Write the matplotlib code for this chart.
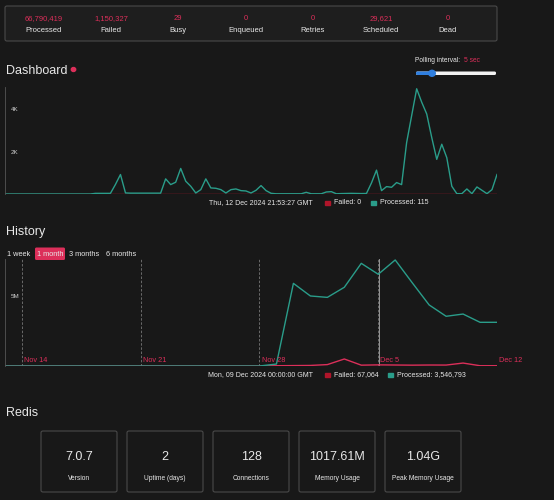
import matplotlib
matplotlib.use("Agg")
import matplotlib.pyplot as plt
from matplotlib.patches import FancyBboxPatch, Rectangle, Circle
import numpy as np

plt.rcParams['font.family'] = ['Liberation Sans', 'DejaVu Sans']

# --- data ---
stat_values = ["66,790,419", "1,150,327", "29", "0", "0", "29,621", "0"]
stat_labels = ["Processed", "Failed", "Busy", "Enqueued", "Retries", "Scheduled", "Dead"]

# realtime (polling) chart, jobs per interval
live_processed = [0, 0, 0, 0, 0, 0, 0, 0, 0, 0, 0, 0, 0, 0, 0, 0, 0, 0,
                  30, 30, 30, 30, 450, 920, 50, 40, 40, 40, 40, 40, 40, 40,
                  714, 444, 555, 1206, 603, 365, 48, 206, 714, 286, 270, 206,
                  48, 206, 238, 159, 143, 48, 175, 397, 159, 32,
                  10, 10, 10, 10, 10, 10, 80, 10, 10, 10, 95, 111, 10,
                  20, 25, 30, 25, 20, 25,
                  524, 1127, 159, 349, 317, 540, 444, 2428, 3698, 4967, 4333,
                  3777, 2666, 1635, 2349, 1714, 365, 16, 16, 238, 16, 333,
                  175, 16, 206, 920]
live_failed = [0] * len(live_processed)

# history, 1 month (Nov 13 .. Dec 12)
hist_days = ["Nov 13", "Nov 14", "Nov 15", "Nov 16", "Nov 17", "Nov 18", "Nov 19",
             "Nov 20", "Nov 21", "Nov 22", "Nov 23", "Nov 24", "Nov 25", "Nov 26",
             "Nov 27", "Nov 28", "Nov 29", "Nov 30", "Dec 1", "Dec 2", "Dec 3",
             "Dec 4", "Dec 5", "Dec 6", "Dec 7", "Dec 8", "Dec 9", "Dec 10",
             "Dec 11", "Dec 12"]
hist_processed = [0] * 15 + [0.0, 0.14e6, 5.90e6, 5.00e6, 4.90e6, 5.62e6, 7.33e6,
                             6.55e6, 7.57e6, 5.95e6, 4.36e6, 3.55e6, 3.71e6,
                             3.12e6, 3.12e6]
hist_failed = [0] * 15 + [0, 0.02e6, 0.03e6, 0.04e6, 0.10e6, 0.50e6, 0.06e6,
                          0.08e6, 0.07e6, 0.06e6, 0.07e6, 0.067e6, 0.21e6,
                          0.02e6, 0.02e6]
hist_ticks = ["Nov 14", "Nov 21", "Nov 28", "Dec 5", "Dec 12"]

redis_values = ["7.0.7", "2", "128", "1017.61M", "1.04G"]
redis_labels = ["Version", "Uptime (days)", "Connections", "Memory Usage", "Peak Memory Usage"]

BG = "#181818"
PANEL = "#1e1e1e"
BORDER = "#4a4a4a"
CRIMSON = "#dc2f5a"
TEAL = "#2a9d8a"
RED = "#b0152a"
TXT = "#e8e8e8"

W, H = 554, 500
fig = plt.figure(figsize=(W / 100, H / 100), dpi=100, facecolor=BG)


def fx(x):
    return x / W


def fy(y):
    return 1 - y / H


def txt(x, y, s, size=6, color=TXT, ha="center", va="center", **kw):
    fig.text(fx(x), fy(y), s, fontsize=size, color=color, ha=ha, va=va, **kw)


def box(x0, y0, x1, y1, fc=PANEL, ec=BORDER, lw=0.8, r=2):
    p = FancyBboxPatch((fx(x0), fy(y1)), fx(x1 - x0), (y1 - y0) / H,
                       boxstyle=f"round,pad=0,rounding_size={r / W}",
                       transform=fig.transFigure, fc=fc, ec=ec, lw=lw)
    fig.patches.append(p)


def swatch(x, y, color):
    fig.patches.append(Rectangle((fx(x), fy(y + 2.2)), fx(4.5), 4.5 / H,
                                 transform=fig.transFigure, color=color))


# stats bar
box(5, 6, 497, 41)
stat_x = [44, 111, 178, 246, 313, 381, 448]
for x, v, l in zip(stat_x, stat_values, stat_labels):
    txt(x, 19, v, size=5.5, color=CRIMSON)
    txt(x, 31, l, size=5.5)

# dashboard header
txt(6, 71, "Dashboard", size=9.0, ha="left")
fig.patches.append(Circle((fx(73.5), fy(69.5)), 2.2 / W, transform=fig.transFigure,
                          color=CRIMSON))
txt(415, 60, "Polling interval:", size=4.8, ha="left")
txt(463.5, 60, "5 sec", size=4.8, color=CRIMSON, ha="left")
fig.patches.append(FancyBboxPatch((fx(416), fy(75)), fx(80), 3.5 / H,
                                  boxstyle=f"round,pad=0,rounding_size={1.5 / W}",
                                  transform=fig.transFigure, fc="#f2f2f2", ec="none"))
fig.patches.append(FancyBboxPatch((fx(416), fy(75)), fx(16), 3.5 / H,
                                  boxstyle=f"round,pad=0,rounding_size={1.5 / W}",
                                  transform=fig.transFigure, fc="#2f7fe0", ec="none"))
fig.patches.append(Circle((fx(432), fy(73.3)), 3.3 / W, transform=fig.transFigure,
                          color="#2f7fe0"))

# realtime chart
ax1 = fig.add_axes([fx(5), fy(194), fx(492), 107 / H], facecolor=BG)
xs = np.arange(len(live_processed))
ax1.plot(xs, live_failed, color=RED, lw=1.0)
ax1.plot(xs, live_processed, color=TEAL, lw=1.0)
ax1.set_xlim(0, len(xs) - 1)
ax1.set_ylim(0, 5050)
ax1.set_yticks([2000, 4000])
ax1.set_yticklabels(["2K", "4K"])
ax1.tick_params(axis="y", direction="in", length=0, pad=-4, labelsize=4.5,
                labelcolor="#cfcfcf")
for lab in ax1.get_yticklabels():
    lab.set_horizontalalignment("left")
ax1.set_xticks([])
for s in ["top", "right", "bottom"]:
    ax1.spines[s].set_visible(False)
ax1.spines["left"].set_color("#555555")
ax1.spines["left"].set_linewidth(0.6)

# realtime legend
txt(313, 203, "Thu, 12 Dec 2024 21:53:27 GMT", size=5.0, ha="right")
swatch(325, 203, RED)
txt(333.5, 203, "Failed: 0", size=5.0, ha="left")
swatch(371, 203, TEAL)
txt(380, 203, "Processed: 115", size=5.0, ha="left")

# history header
txt(6, 232, "History", size=9.0, ha="left")
txt(7, 254, "1 week", size=5.3, ha="left")
box(35, 247.5, 65, 260, fc=CRIMSON, ec="none", r=1.5)
txt(37, 254, "1 month", size=5.3, ha="left")
txt(69, 254, "3 months", size=5.3, ha="left")
txt(106, 254, "6 months", size=5.3, ha="left")

# history chart
ax2 = fig.add_axes([fx(5), fy(366), fx(492), 107 / H], facecolor=BG)
hx = np.arange(len(hist_days))
tick_pos = [hist_days.index(t) for t in hist_ticks]
for p in tick_pos:
    ax2.axvline(p, color="#777777", lw=0.6, ls=(0, (3, 2)))
ax2.axvline(hist_days.index("Dec 5") + 0.05, color="#aaaaaa", lw=0.6)
ax2.plot(hx, hist_failed, color=CRIMSON, lw=1.0)
ax2.plot(hx, hist_processed, color=TEAL, lw=1.0)
ax2.set_xlim(0, len(hx) - 1)
ax2.set_ylim(0, 7.64e6)
ax2.set_yticks([5e6])
ax2.set_yticklabels(["5M"])
ax2.tick_params(axis="y", direction="in", length=0, pad=-4, labelsize=4.5,
                labelcolor="#cfcfcf")
for lab in ax2.get_yticklabels():
    lab.set_horizontalalignment("left")
ax2.set_xticks([])
for p, t in zip(tick_pos, hist_ticks):
    ax2.text(p + 0.12, 0.36e6, t, color=CRIMSON, fontsize=5.3, ha="left",
             va="center", clip_on=False)
for s in ["top", "right", "bottom"]:
    ax2.spines[s].set_visible(False)
ax2.spines["left"].set_color("#555555")
ax2.spines["left"].set_linewidth(0.6)

# history legend
txt(313, 375, "Mon, 09 Dec 2024 00:00:00 GMT", size=5.0, ha="right")
swatch(325, 375, RED)
txt(333.5, 375, "Failed: 67,064", size=5.0, ha="left")
swatch(388, 375, TEAL)
txt(397, 375, "Processed: 3,546,793", size=5.0, ha="left")

# redis
txt(6, 413, "Redis", size=9.0, ha="left")
box_x = [41, 127, 213, 299, 385]
for x0, v, l in zip(box_x, redis_values, redis_labels):
    box(x0, 431, x0 + 76, 492, fc=BG, ec=BORDER, r=2)
    txt(x0 + 38, 457, v, size=9.0)
    txt(x0 + 38, 479, l, size=4.8)

fig.savefig("out.png", dpi=100, facecolor=BG)
